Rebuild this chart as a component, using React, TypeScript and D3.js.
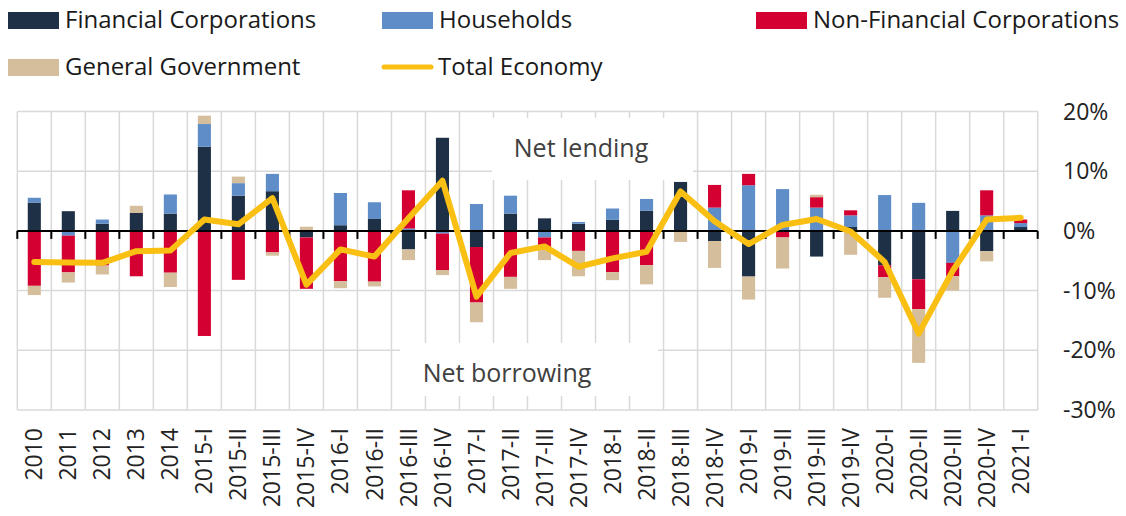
import React from "react";
import * as d3 from "d3";

const categories = ["2010","2011","2012","2013","2014","2015-I","2015-II","2015-III","2015-IV","2016-I","2016-II","2016-III","2016-IV","2017-I","2017-II","2017-III","2017-IV","2018-I","2018-II","2018-III","2018-IV","2019-I","2019-II","2019-III","2019-IV","2020-I","2020-II","2020-III","2020-IV","2021-I"];

const financial = [4.75, 3.3, 1.2, 3.0, 2.9, 14.1, 5.9, 6.65, -1.1, 0.95, 2.0, -3.1, 15.6, -2.7, 2.9, 2.1, 1.2, 1.85, 3.4, 8.2, -1.7, -7.65, 0, -4.3, 0.65, -5.75, -8.1, 3.35, -3.4, 0.65];
const households = [0.8, -0.8, 0.7, 0, 3.2, 3.8, 2.1, 2.9, 0, 5.4, 2.8, 0.4, -0.45, 4.5, 3.0, -1.1, 0.3, 1.9, 1.95, 0, 3.9, 7.65, 7.0, 3.9, 1.95, 6.0, 4.7, -5.35, 2.6, 0.65];
const nonFinancial = [-9.2, -6.15, -5.8, -7.6, -7.0, -17.6, -8.2, -3.6, -8.6, -8.4, -8.5, 6.4, -6.1, -9.3, -7.7, -1.7, -3.35, -6.9, -5.75, 0, 3.8, 1.9, -1.1, 1.75, 0.85, -2.0, -5.0, -2.25, 4.2, 0.6];
const government = [-1.55, -1.7, -1.5, 1.2, -2.4, 1.4, 1.1, -0.55, 0.7, -1.2, -0.8, -1.8, -0.85, -3.3, -2.0, -2.1, -4.25, -1.35, -3.2, -1.85, -4.5, -3.85, -5.2, 0.4, -4.0, -3.45, -9.0, -2.4, -1.7, 0];
const totalEconomy = [-5.2, -5.3, -5.35, -3.4, -3.3, 1.9, 1.1, 5.5, -9.0, -3.1, -4.3, 2.1, 8.4, -11.0, -3.7, -2.6, -6.0, -4.6, -3.5, 6.6, 1.6, -2.2, 1.0, 2.0, -0.1, -5.2, -17.2, -6.7, 1.9, 2.2];

const yTicks = [20, 10, 0, -10, -20, -30];

const seriesKeys = ["fc", "hh", "nfc", "gg"];
const seriesNames = ["Financial Corporations", "Households", "Non-Financial Corporations", "General Government"];
const seriesColors = ["#1d3046", "#5e8dc8", "#d50032", "#d5be9b"];
const lineColor = "#f9bf13";

const FONT = "'Open Sans', 'Noto Sans', sans-serif";

export default function App() {
  const W = 1126, H = 516;
  const left = 17.3, right = 1037.7, top = 111.5, bottom = 410;

  const x = d3.scaleBand<string>().domain(categories).range([left, right]).paddingInner(0).paddingOuter(0);
  const y = d3.scaleLinear().domain([-30, 20]).range([bottom, top]);

  const rows = categories.map((c, i) => ({
    cat: c,
    fc: financial[i],
    hh: households[i],
    nfc: nonFinancial[i],
    gg: government[i],
  }));
  const stack = d3.stack<any>().keys(seriesKeys).offset(d3.stackOffsetDiverging);
  const stacked = stack(rows);

  const bw = x.bandwidth() * 0.385;
  const line = d3.line<number>()
    .x((_, i) => (x(categories[i]) as number) + x.bandwidth() / 2)
    .y((d) => y(d));

  const boundaries = d3.range(categories.length + 1).map((i) => left + i * x.bandwidth());

  return (
    <svg width={W} height={H} style={{ display: "block", position: "absolute", left: 0, top: 0 }} fontFamily={FONT}>
      <rect x={0} y={0} width={W} height={H} fill="#ffffff" />
      {/* gridlines */}
      {yTicks.filter((t) => t !== 0).map((t) => (
        <line key={"h" + t} x1={left} x2={right} y1={y(t)} y2={y(t)} stroke="#d9d9d9" strokeWidth={1.5} />
      ))}
      {boundaries.map((bx, i) => (
        <line key={"v" + i} x1={bx} x2={bx} y1={top} y2={bottom} stroke="#d9d9d9" strokeWidth={1.5} />
      ))}
      {/* annotation boxes */}
      <rect x={492} y={118} width={201} height={62} fill="#ffffff" />
      <rect x={400} y={343} width={258} height={53} fill="#ffffff" />
      <text x={581} y={148} fontSize={25} fill="#404040" textAnchor="middle" dy="0.35em">Net lending</text>
      <text x={507} y={373} fontSize={25} fill="#404040" textAnchor="middle" dy="0.35em">Net borrowing</text>
      {/* bars */}
      {stacked.map((s, si) => (
        <g key={s.key} fill={seriesColors[si]}>
          {s.map((d, i) => {
            const y0 = y(d[0]), y1 = y(d[1]);
            const h = Math.abs(y0 - y1);
            if (h < 0.01) return null;
            return (
              <rect key={i}
                x={(x(categories[i]) as number) + x.bandwidth() / 2 - bw / 2}
                y={Math.min(y0, y1)} width={bw} height={h} />
            );
          })}
        </g>
      ))}
      {/* zero axis */}
      <line x1={left} x2={right} y1={y(0)} y2={y(0)} stroke="#000" strokeWidth={2} />
      {boundaries.map((bx, i) => (
        <line key={"t" + i} x1={bx} x2={bx} y1={y(0)} y2={y(0) + 8} stroke="#000" strokeWidth={2} />
      ))}
      {/* total line */}
      <path d={line(totalEconomy) as string} fill="none" stroke={lineColor} strokeWidth={6} strokeLinejoin="round" strokeLinecap="round" />
      {/* y labels */}
      {yTicks.map((t) => (
        <text key={"yl" + t} x={1063} y={y(t)} dy="0.35em" fontSize={23} fill="#222">{t + "%"}</text>
      ))}
      {/* x labels */}
      {categories.map((c) => {
        const cx = (x(c) as number) + x.bandwidth() / 2;
        return (
          <text key={"xl" + c} transform={`translate(${cx},428) rotate(-90)`} textAnchor="end" dy="0.35em" fontSize={23} fill="#222">{c}</text>
        );
      })}
      {/* legend */}
      {[
        { i: 0, lx: 8, ly: 20 },
        { i: 1, lx: 382, ly: 20 },
        { i: 2, lx: 756, ly: 20 },
        { i: 3, lx: 8, ly: 67 },
      ].map(({ i, lx, ly }) => (
        <g key={"lg" + i}>
          <rect x={lx} y={ly - 8} width={51} height={17} fill={seriesColors[i]} />
          <text x={lx + 57} y={ly} dy="0.35em" fontSize={24} fill="#1a1a1a">{seriesNames[i]}</text>
        </g>
      ))}
      <g>
        <line x1={384} x2={431} y1={67} y2={67} stroke={lineColor} strokeWidth={5} strokeLinecap="round" />
        <text x={438} y={67} dy="0.35em" fontSize={24} fill="#1a1a1a">Total Economy</text>
      </g>
    </svg>
  );
}
